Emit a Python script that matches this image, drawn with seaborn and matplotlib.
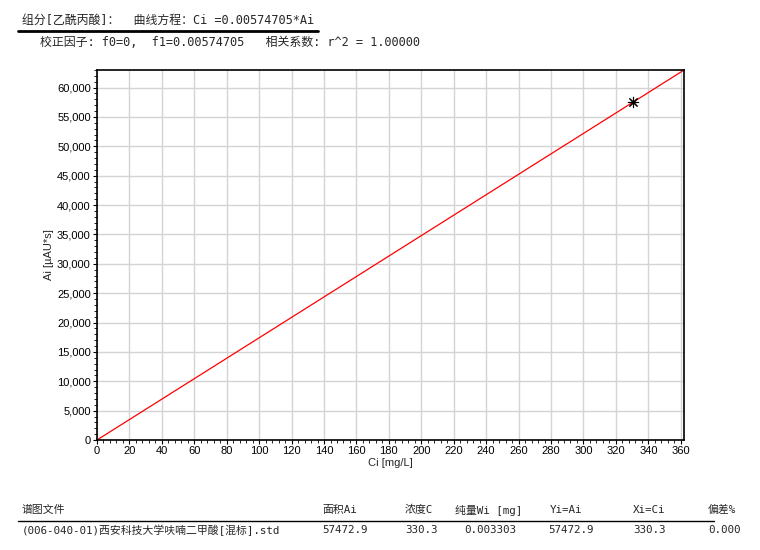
import matplotlib
matplotlib.use("Agg")
import matplotlib.pyplot as plt
from matplotlib.lines import Line2D
from matplotlib.ticker import MultipleLocator, FuncFormatter
import seaborn as sns
import pandas as pd

# ---- data ----
line_ci = [0.0, 362.0]
line_ai = [0.0, 62990.0]
point_ci = [330.3]
point_ai = [57472.9]

header1 = "组分[乙酰丙酸]：  曲线方程：Ci =0.00574705*Ai"
header2 = "校正因子: f0=0,  f1=0.00574705   相关系数: r^2 = 1.00000"
table_cols = ["谱图文件", "面积Ai", "浓度C", "纯量Wi [mg]", "Yi=Ai", "Xi=Ci", "偏差%"]
table_row = ["(006-040-01)西安科技大学呋喃二甲酸[混标].std", "57472.9", "330.3", "0.003303", "57472.9", "330.3", "0.000"]
col_x = [22, 322, 405, 455, 550, 633, 708]
row_x = [22, 322, 405, 464, 548, 633, 708]

sns.set_theme(style="whitegrid")
plt.rcParams['font.family'] = ['Noto Sans CJK SC', 'DejaVu Sans']
mono = ['DejaVu Sans Mono', 'Noto Sans CJK SC']

fig = plt.figure(figsize=(7.6, 5.5), dpi=100)
W, H = 760, 550
ax = fig.add_axes([97 / W, 1 - 440 / H, (684 - 97) / W, (440 - 70) / H])

df_line = pd.DataFrame({"Ci": line_ci, "Ai": line_ai})
df_pt = pd.DataFrame({"Ci": point_ci, "Ai": point_ai})
sns.lineplot(data=df_line, x="Ci", y="Ai", ax=ax, color="#ff0000", linewidth=0.9)
sns.scatterplot(data=df_pt, x="Ci", y="Ai", ax=ax, marker=(8, 2, 0), s=55,
                color="black", linewidth=0.8, zorder=5)

ax.set_xlim(0, 362)
ax.set_ylim(0, 63000)
ax.xaxis.set_major_locator(MultipleLocator(20))
ax.xaxis.set_minor_locator(MultipleLocator(4))
ax.yaxis.set_major_locator(MultipleLocator(5000))
ax.yaxis.set_minor_locator(MultipleLocator(1000))
ax.yaxis.set_major_formatter(FuncFormatter(lambda v, p: f"{int(v):,}"))

ax.set_facecolor("white")
ax.grid(True, which="major", color="#d4d4d4", linewidth=1.0)
ax.grid(False, which="minor")
for s in ax.spines.values():
    s.set_color("black")
    s.set_linewidth(1.2)
    s.set_visible(True)

tick_font = ['Liberation Sans', 'DejaVu Sans']
ax.tick_params(axis="both", which="major", direction="out", length=3, width=0.8,
               colors="black", labelsize=8, pad=1.5, left=True, bottom=True)
ax.tick_params(axis="both", which="minor", direction="out", length=2, width=0.6,
               colors="black", left=True, bottom=True)
for lab in ax.get_xticklabels() + ax.get_yticklabels():
    lab.set_family(tick_font)
ax.set_xlabel("Ci [mg/L]", fontsize=8, family=tick_font, labelpad=1)
ax.set_ylabel("Ai [µAU*s]", fontsize=8, family=tick_font, labelpad=2)

# header texts
fig.text(22 / W, 1 - 20 / H, header1, fontsize=8.6, va="center", ha="left", family=mono)
fig.add_artist(Line2D([18 / W, 318 / W], [1 - 31 / H, 1 - 31 / H], color="black", linewidth=2))
fig.text(40 / W, 1 - 42 / H, header2, fontsize=8.6, va="center", ha="left", family=mono)

# table
for txt, x in zip(table_cols, col_x):
    fig.text(x / W, 1 - 510 / H, txt, fontsize=7.8, va="center", ha="left", family=mono)
fig.add_artist(Line2D([18 / W, 714 / W], [1 - 521 / H, 1 - 521 / H], color="black", linewidth=1))
for txt, x in zip(table_row, row_x):
    fig.text(x / W, 1 - 530 / H, txt, fontsize=7.8, va="center", ha="left", family=mono)

fig.savefig("out.png", dpi=100, facecolor="white")
